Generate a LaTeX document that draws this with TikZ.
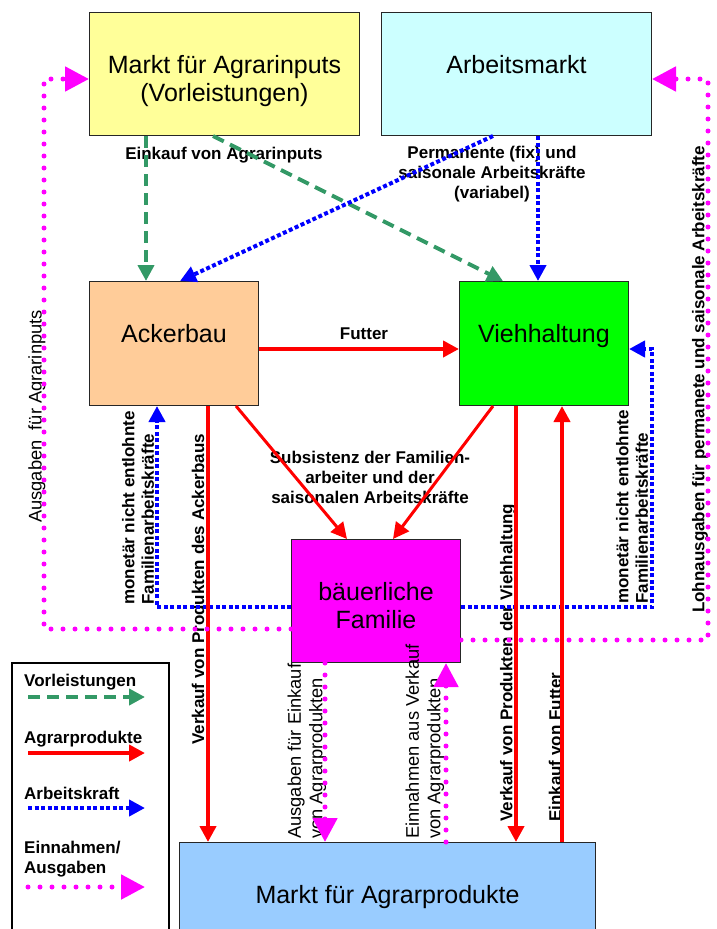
\documentclass[tikz,border=0pt]{standalone}
\usepackage{fontspec}
\setmainfont{Liberation Sans}
\usetikzlibrary{arrows.meta}
\definecolor{cyel}{HTML}{FFFF99}
\definecolor{ccyan}{HTML}{CCFFFF}
\definecolor{corange}{HTML}{FFCC99}
\definecolor{cgreen}{HTML}{00FF00}
\definecolor{cmag}{HTML}{FF00FF}
\definecolor{cblue}{HTML}{99CCFF}
\definecolor{vgreen}{HTML}{339966}
\definecolor{ablue}{HTML}{0000FF}
\definecolor{pred}{HTML}{FF0000}
\begin{document}
\begin{tikzpicture}[x=1pt,y=1pt,
  box/.style={draw=black!85, line width=1pt, anchor=north west, inner sep=0pt},
  boxtext/.style={font=\fontsize{25}{28.5}\selectfont, align=center, anchor=north, inner sep=0pt},
  lbl/.style={font=\bfseries\fontsize{17}{20}\selectfont, align=center, inner sep=0pt},
  rbold/.style={font=\bfseries\fontsize{17}{19.5}\selectfont, align=left, inner sep=0pt, rotate=90, anchor=west},
  rreg/.style={font=\fontsize{18.3}{21.5}\selectfont, align=left, inner sep=0pt, rotate=90, anchor=west},
  vline/.style={draw=vgreen, line width=4pt, dash pattern=on 12pt off 7pt, -{Triangle[length=16pt,width=16pt]}},
  pline/.style={draw=pred, line width=4pt, -{Triangle[length=16pt,width=16pt]}},
  aline/.style={draw=ablue, line width=4pt, dash pattern=on 4pt off 2.5pt, -{Triangle[length=16pt,width=16pt]}},
  mline/.style={draw=cmag, line width=5pt, line cap=round, dash pattern=on 0pt off 12pt, -{Triangle[length=24pt,width=24pt]}},
]
\useasboundingbox (0,0) rectangle (717,-929);
\fill[white] (0,0) rectangle (717,-929);

% boxes
\node[box, fill=cyel, minimum width=270pt, minimum height=123pt] (mi) at (89,-12) {};
\node[box, fill=ccyan, minimum width=270pt, minimum height=123pt] (am) at (381,-12) {};
\node[box, fill=corange, minimum width=169pt, minimum height=124pt] (ack) at (89,-281) {};
\node[box, fill=cgreen, minimum width=169pt, minimum height=124pt] (vh) at (459,-281) {};
\node[box, fill=cmag, minimum width=169pt, minimum height=123pt] (fam) at (291,-539) {};
\node[box, fill=cblue, minimum width=416pt, minimum height=110pt] (map) at (179,-842) {};
\node[draw=black, line width=1.5pt, anchor=north west, minimum width=157pt, minimum height=290pt, inner sep=0pt] (leg) at (11,-662) {};

% box texts
\node[boxtext] (mit) at ([yshift=-43pt]mi.north) {Markt für Agrarinputs\\(Vorleistungen)};
\node[boxtext] (amt) at ([yshift=-43pt]am.north) {Arbeitsmarkt};
\node[boxtext] (ackt) at ([yshift=-43pt]ack.north) {Ackerbau};
\node[boxtext] (vht) at ([yshift=-43pt]vh.north) {Viehhaltung};
\node[boxtext] (famt) at ([yshift=-43pt]fam.north) {bäuerliche\\Familie};
\node[boxtext] (mapt) at ([yshift=-43pt]map.north) {Markt für Agrarprodukte};

% labels
\node[lbl] (l1) at (224,-155) {Einkauf von Agrarinputs};
\node[lbl] (l2) at (492,-174) {Permanente (fix) und\\saisonale Arbeitskräfte\\(variabel)};
\node[lbl] (l3) at (364,-334) {Futter};
\node[lbl] (l4) at (370,-477) {Subsistenz der Familien-\\arbeiter und der\\saisonalen Arbeitskräfte};
\node[rreg] (l5) at (37,-523) {Ausgaben\ \ für Agrarinputs};
\node[rbold] (l6) at (138,-605) {monetär nicht entlohnte\\Familienarbeitskräfte};
\node[rbold] (l7) at (198,-745) {Verkauf von Produkten des Ackerbaus};
\node[rbold] (l8) at (632,-604) {monetär nicht entlohnte\\Familienarbeitskräfte};
\node[rbold] (l9) at (700,-613) {Lohnausgaben für permanete und saisonale Arbeitskräfte};
\node[rreg] (l10) at (307,-839) {Ausgaben für Einkauf\\von Agrarprodukten};
\node[rreg] (l11) at (425,-839) {Einnahmen aus Verkauf\\von Agrarprodukten};
\node[rbold] (l12) at (508,-822) {Verkauf von Produkten der Viehhaltung};
\node[rbold] (l13) at (555,-822) {Einkauf von Futter};

% green dashed
\draw[vline] ([xshift=57pt]mi.south west) -- ([xshift=57pt]ack.north west);
\draw[vline] ([xshift=124pt]mi.south west) -- ([xshift=44pt]vh.north west);
% blue dotted
\draw[aline] ([xshift=112pt]am.south west) -- ([xshift=91pt]ack.north west);
\draw[aline] ([xshift=157pt]am.south west) -- ([xshift=79pt]vh.north west);
\draw[aline] ([yshift=-68pt]fam.north west) -| ([xshift=68pt]ack.south west);
\draw[aline] ([yshift=-68pt]fam.north east) -| ([xshift=23pt,yshift=-68pt]vh.north east) -- ([yshift=-68pt]vh.north east);
% red
\draw[pline] ([yshift=-68pt]ack.north east) -- ([yshift=-68pt]vh.north west);
\draw[pline, line width=3pt] ([xshift=147pt]ack.south west) -- ([xshift=56pt]fam.north west);
\draw[pline, line width=3pt] ([xshift=34pt]vh.south west) -- ([xshift=102pt]fam.north west);
\draw[pline] ([xshift=119pt]ack.south west) -- ([xshift=29pt]map.north west);
\draw[pline] ([xshift=57pt]vh.south west) -- ([xshift=337pt]map.north west);
\draw[pline] ([xshift=383pt]map.north west) -- ([xshift=103pt]vh.south west);
% magenta dotted
\draw[mline] ([yshift=-90pt]fam.north west) -| ([xshift=-45pt,yshift=-67pt]mi.north west) -- ([yshift=-67pt]mi.north west);
\draw[mline] ([yshift=-101pt]fam.north east) -| ([xshift=56pt,yshift=-67pt]am.north east) -- ([yshift=-67pt]am.north east);
\draw[mline] ([xshift=34pt]fam.south west) -- ([xshift=146pt]map.north west);
\draw[mline] ([xshift=267pt]map.north west) -- ([xshift=155pt]fam.south west);

% legend
\node[lbl, anchor=west] (lg1) at (24,-682) {Vorleistungen};
\node[lbl, anchor=west] (lg2) at (24,-739) {Agrarprodukte};
\node[lbl, anchor=west] (lg3) at (24,-793) {Arbeitskraft};
\node[lbl, anchor=west, align=left] (lg4) at (24,-859) {Einnahmen/\\Ausgaben};
\coordinate (g1a) at (28,-697); \coordinate (g1b) at (145,-697);
\coordinate (g2a) at (28,-753); \coordinate (g2b) at (145,-753);
\coordinate (g3a) at (28,-808); \coordinate (g3b) at (145,-808);
\coordinate (g4a) at (28,-887); \coordinate (g4b) at (145,-887);
\draw[vline] (g1a) -- (g1b);
\draw[pline] (g2a) -- (g2b);
\draw[aline] (g3a) -- (g3b);
\draw[mline] (g4a) -- (g4b);
\end{tikzpicture}
\end{document}
